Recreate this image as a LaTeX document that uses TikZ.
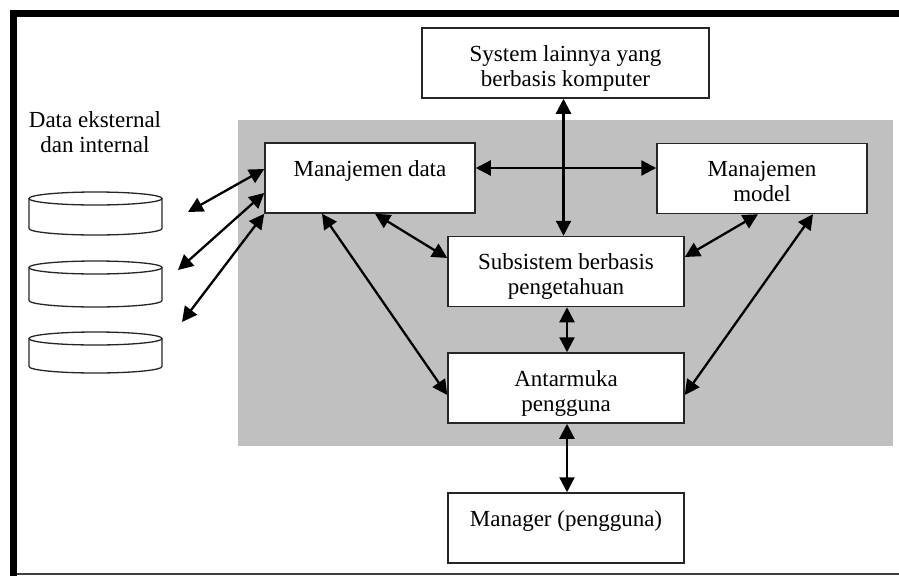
\documentclass[tikz,border=0pt]{standalone}
\usepackage{fontspec}
\setmainfont{Liberation Serif}
\usetikzlibrary{arrows.meta}
\definecolor{panel}{HTML}{C0C0C0}
\begin{document}
\begin{tikzpicture}[x=1pt,y=-1pt,
  box/.style={draw=black!85, line width=1.5pt, fill=white, inner sep=0pt, align=center,
    minimum height=70pt, text height=50pt, text depth=4pt,
    font=\fontsize{23}{25}\selectfont},
  onebox/.style={box, text height=15pt, text depth=18pt},
  link/.style={{Triangle[length=15pt,width=15pt]}-{Triangle[length=15pt,width=15pt]}, line width=2.3pt},
  disk/.style={line width=1.3pt, draw=black!85}]
\useasboundingbox (0,0) rectangle (899,576);
% frame
\fill[black] (10,10) rectangle (899,17);
\fill[black] (10,10) rectangle (17,576);
\draw[black!75, line width=1.5pt] (17,574) -- (899,574);
% grey panel
\fill[panel] (238,120) rectangle (893,446);
% boxes
\node[box, minimum width=287pt] (sys) at (565.5,63) {System lainnya yang\\berbasis komputer};
\node[onebox, minimum width=210pt] (md) at (370,178) {Manajemen data};
\node[box, minimum width=210pt] (mm) at (762,178.5) {Manajemen\\model};
\node[box, minimum width=236pt] (sub) at (566,271.5) {Subsistem berbasis\\pengetahuan};
\node[box, minimum width=236pt] (ui) at (566,388) {Antarmuka\\pengguna};
\node[onebox, minimum width=236pt] (mgr) at (566,528) {Manager (pengguna)};
% data label
\node[inner sep=0pt, align=center, text height=40pt, text depth=5pt,
  font=\fontsize{23}{25}\selectfont] (lbl) at (95,134.5) {Data eksternal\\dan internal};
% disks
\foreach \yt/\yb in {198.5/228.5, 267.5/300.5, 338.5/366.5}{
  \draw[disk] (95.5,\yt) ellipse [x radius=66.5pt, y radius=6.5pt];
  \draw[disk] (29,\yt) -- (29,\yb) arc[start angle=180, end angle=360, x radius=66.5pt, y radius=6.5pt] -- (162,\yt);
}
\coordinate (e1) at (188,212);
\coordinate (e2) at (178,270);
\coordinate (e3) at (182,322);
% connectors
\draw[link] (e1) -- ([yshift=9pt]md.west);
\draw[link] (e2) -- ([yshift=-15pt]md.west);
\draw[link] (e3) -- (md.south west);
\draw[link] ([xshift=-2pt]sys.south) -- ([xshift=-2pt]sys.south |- sub.north);
\draw[link] ([yshift=10pt]md.east) -- ([yshift=10pt]md.east -| mm.west);
\draw[link] ([xshift=5pt]md.south) -- ([yshift=13.5pt]sub.west);
\draw[link] ([xshift=-48pt]md.south) -- ([yshift=-7pt]ui.west);
\draw[link] ([xshift=1pt]sub.south) -- ([xshift=1pt]ui.north);
\draw[link] ([xshift=-4pt]mm.south) -- ([yshift=14.5pt]sub.east);
\draw[link] ([xshift=51pt]mm.south) -- ([yshift=-7pt]ui.east);
\draw[link] ([xshift=1pt]ui.south) -- ([xshift=1pt]mgr.north);
\end{tikzpicture}
\end{document}
